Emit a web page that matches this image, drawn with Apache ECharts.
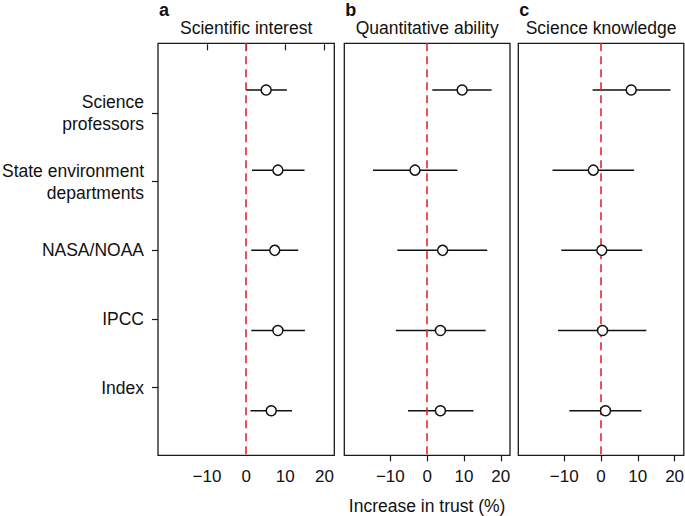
<!DOCTYPE html>
<html>
<head>
<meta charset="utf-8">
<script src="https://cdn.jsdelivr.net/npm/echarts@6/dist/echarts.min.js"></script>
<style>
html,body{margin:0;padding:0;background:#fff;}
#chart{width:685px;height:516px;}
</style>
</head>
<body>
<div id="chart"></div>
<script>
// ---- data ----
const categories = ['Science\nprofessors', 'State environment\ndepartments', 'NASA/NOAA', 'IPCC', 'Index'];
const panelLetters = ['a', 'b', 'c'];
const panelTitles = ['Scientific interest', 'Quantitative ability', 'Science knowledge'];
const xTicks = [-10, 0, 10, 20];
const axisTitle = 'Increase in trust (%)';

const estA = [5.1, 8.1, 7.3, 8.1, 6.4];
const lowA = [0.0, 1.5, 1.3, 1.3, 1.1];
const highA = [10.4, 14.9, 13.3, 15.0, 11.7];

const estB = [9.5, -3.3, 4.2, 3.6, 3.6];
const lowB = [1.4, -14.7, -8.1, -8.5, -5.2];
const highB = [17.5, 8.2, 16.3, 15.9, 12.6];

const estC = [8.2, -2.1, 0.2, 0.4, 1.2];
const lowC = [-2.3, -13.2, -10.8, -11.7, -8.6];
const highC = [18.9, 9.0, 11.2, 12.3, 11.0];

const panelEst = [estA, estB, estC];
const panelLow = [lowA, lowB, lowC];
const panelHigh = [highA, highB, highC];

// ---- chart ----
const FONT = '"Liberation Sans", Arial, Helvetica, sans-serif';
const INK = '#111';
const chart = echarts.init(document.getElementById('chart'), null, {renderer: 'svg'});

const gridLeft = [158, 344.3, 518.3];
const gridWidth = [176.3, 165.7, 165.5];
const gridTop = 43.3, gridHeight = 412;
const pointAxisIdx = [0, 2, 3];
const zeroX = gridLeft.map((l, i) => l + gridWidth[i] / 2);

const fmtTick = v => (v < 0 ? '\u2212' + Math.abs(v) : String(v));

const grids = gridLeft.map((l, i) => ({
  left: l, top: gridTop, width: gridWidth[i], height: gridHeight,
  outerBoundsMode: 'none', containLabel: false,
  show: true, borderColor: '#1a1a1a', borderWidth: 1.3, backgroundColor: 'transparent'
}));

const xAxes = gridLeft.map((l, i) => {
  const ax = {
    gridIndex: i, type: 'value', min: -22.5, max: 22.5,
    splitLine: {show: false},
    axisLine: {show: false},
    axisTick: {show: true, customValues: xTicks, length: 6, lineStyle: {color: '#1a1a1a', width: 1.2}},
    axisLabel: {customValues: xTicks, formatter: fmtTick, fontSize: 17, color: INK, fontFamily: FONT, margin: 13}
  };
  if (i === 1) {
    ax.name = axisTitle;
    ax.nameLocation = 'middle';
    ax.nameGap = 42;
    ax.nameTextStyle = {fontSize: 17.5, color: INK, fontFamily: FONT};
  }
  return ax;
});

const yAxes = [
  {gridIndex: 0, type: 'value', min: 0.418, max: 5.556, inverse: true, show: false},
  {gridIndex: 0, type: 'value', min: -0.015, max: 5.985, inverse: true, position: 'left',
   splitLine: {show: false}, axisLine: {show: false},
   axisTick: {show: true, customValues: [1, 2, 3, 4, 5], length: 6, lineStyle: {color: '#1a1a1a', width: 1.2}},
   axisLabel: {customValues: [1, 2, 3, 4, 5], formatter: v => categories[v - 1] || '',
     fontSize: 17.5, lineHeight: 22, color: INK, fontFamily: FONT, margin: 14}},
  {gridIndex: 1, type: 'value', min: 0.418, max: 5.556, inverse: true, show: false},
  {gridIndex: 2, type: 'value', min: 0.418, max: 5.556, inverse: true, show: false}
];

const series = [];
panelEst.forEach((est, i) => {
  const barData = categories.map((c, k) => [panelLow[i][k], panelHigh[i][k], k + 1]);
  const ptData = categories.map((c, k) => [est[k], k + 1]);
  series.push({
    type: 'custom', xAxisIndex: i, yAxisIndex: pointAxisIdx[i], z: 2,
    encode: {x: [0, 1], y: 2},
    data: barData,
    renderItem: (params, api) => {
      const p1 = api.coord([api.value(0), api.value(2)]);
      const p2 = api.coord([api.value(1), api.value(2)]);
      return {type: 'line', shape: {x1: p1[0], y1: p1[1], x2: p2[0], y2: p2[1]},
              style: {stroke: INK, lineWidth: 1.5}};
    },
    markLine: {
      silent: true, symbol: 'none', label: {show: false}, animation: false,
      lineStyle: {color: '#e8262b', type: [8, 5], width: 1.6},
      data: [{xAxis: 0}]
    }
  });
  series.push({
    type: 'scatter', xAxisIndex: i, yAxisIndex: pointAxisIdx[i], z: 5,
    symbol: 'circle', symbolSize: 10,
    itemStyle: {color: '#fff', borderColor: INK, borderWidth: 1.5, opacity: 1},
    data: ptData
  });
});

const titles = [];
panelTitles.forEach((t, i) => {
  titles.push({text: t, left: zeroX[i], top: 19, textAlign: 'center', padding: 0,
    textStyle: {fontSize: 17.5, fontWeight: 'normal', color: INK, fontFamily: FONT}});
  titles.push({text: panelLetters[i], left: gridLeft[i] + 1, top: 1, padding: 0,
    textStyle: {fontSize: 18, fontWeight: 'bold', color: INK, fontFamily: FONT}});
});

chart.setOption({
  animation: false,
  textStyle: {fontFamily: FONT},
  title: titles,
  grid: grids,
  xAxis: xAxes,
  yAxis: yAxes,
  series: series
});
</script>
</body>
</html>
